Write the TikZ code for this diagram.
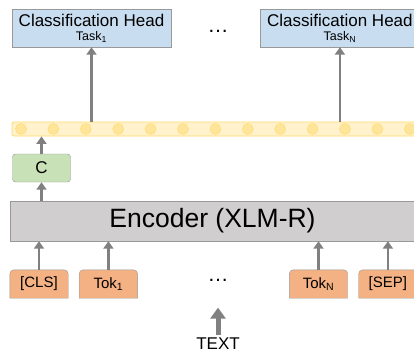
\documentclass[tikz,border=0pt]{standalone}
\usepackage{fontspec}
\setmainfont{Liberation Sans}
\usetikzlibrary{positioning, arrows.meta, backgrounds}

\definecolor{headblue}{HTML}{C9DDF0}
\definecolor{barfill}{HTML}{FFF2CC}
\definecolor{barline}{HTML}{FFD966}
\definecolor{dotfill}{HTML}{FFE599}
\definecolor{cgreen}{HTML}{C8E1B6}
\definecolor{encgray}{HTML}{D0CECE}
\definecolor{tokorange}{HTML}{F4B183}
\definecolor{boxgray}{HTML}{999999}
\definecolor{arrowgray}{HTML}{808080}

\tikzstyle{head} = [rectangle, minimum width=159pt, minimum height=38pt, inner sep=0pt, align=center, fill=headblue, draw=boxgray, font=\fontsize{17}{15}\selectfont]
\tikzstyle{bar} = [rectangle, rounded corners=2pt, minimum width=404pt, minimum height=14pt, inner sep=0pt, fill=barfill, draw=barline, line width=0.8pt]
\tikzstyle{dot} = [circle, minimum size=11pt, inner sep=0pt, fill=dotfill, draw=barline, line width=0.4pt]
\tikzstyle{cbox} = [rectangle, rounded corners=3pt, minimum width=58pt, minimum height=28pt, fill=cgreen, draw=boxgray, font=\fontsize{17}{18}\selectfont]
\tikzstyle{encoder} = [rectangle, minimum width=405pt, minimum height=40pt, fill=encgray, draw=boxgray, font=\fontsize{26.5}{28}\selectfont]
\tikzstyle{tok} = [rectangle, minimum width=58pt, minimum height=28pt, inner sep=0pt, font=\fontsize{15}{17}\selectfont]
\tikzstyle{tokshape} = [fill=tokorange, draw=boxgray]
\tikzstyle{arrow} = [line width=2.6pt, draw=arrowgray, -{Triangle[width=10pt,length=7.5pt]}]
\tikzstyle{bigarrow} = [line width=5pt, draw=arrowgray, -{Triangle[width=15pt,length=11pt]}]

\begin{document}
\begin{tikzpicture}[x=1pt, y=-1pt]
\useasboundingbox (0,0) rectangle (414,353);

% task heads
\node (head1) [head] at (91.5,28) {Classification Head\\[-1pt]{\fontsize{12.5}{12}\selectfont Task\textsubscript{1}}};
\node (headn) [head, right=89pt of head1] {Classification Head\\[-1pt]{\fontsize{12.5}{12}\selectfont Task\textsubscript{N}}};
\node (dotstop) [font=\fontsize{21}{22}\selectfont] at (218,31) {…};

% token outputs
\node (bar) [bar] at (214,129) {};
\foreach \i in {0,...,12}
  \node (d\i) [dot] at (21+32.4*\i,129) {};

\node (c) [cbox] at (41.5,168) {C};
\node (enc) [encoder] at (212.5,221) {Encoder (XLM-R)};

% input tokens
\node (cls) [tok] at (39,284) {[CLS]};
\node (tok1) [tok, right=11pt of cls] {Tok\textsubscript{1}};
\node (tokn) [tok] at (318.5,284) {Tok\textsubscript{N}};
\node (sep) [tok, right=11pt of tokn] {[SEP]};
\node (dotsbot) [font=\fontsize{21}{22}\selectfont] at (218,280) {…};
\node (input) [font=\fontsize{17}{18}\selectfont] at (218,344) {TEXT};

\begin{scope}[on background layer]
\foreach \t in {cls,tok1,tokn,sep}
  \draw [tokshape] (\t.south west) [rounded corners=4pt] -- (\t.north west) -- (\t.north east) [sharp corners] -- (\t.south east) -- cycle;
\end{scope}

\draw [arrow] (head1.south |- bar.north) -- (head1.south);
\draw [arrow] (headn.south |- bar.north) -- (headn.south);
\draw [arrow] (c.north) -- (c.north |- bar.south);
\draw [arrow] (c.south |- enc.north) -- (c.south);
\foreach \t in {cls,tok1,tokn,sep}
  \draw [arrow] (\t.north) -- (\t.north |- enc.south);
\draw [bigarrow] (input.north) -- ++(0,-27);
\end{tikzpicture}
\end{document}
